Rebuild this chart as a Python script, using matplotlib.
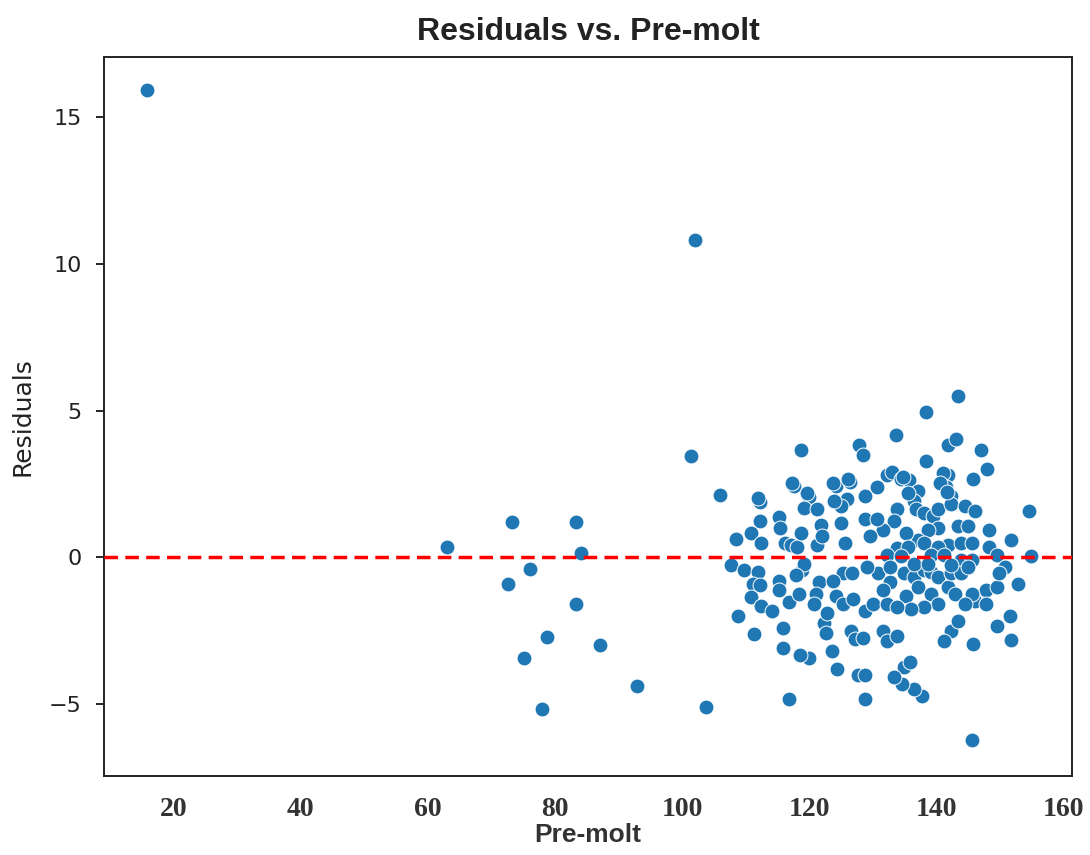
import matplotlib
matplotlib.use("Agg")
import matplotlib.pyplot as plt
from matplotlib import font_manager

# Pre-molt values and residuals
pre_molt = [
    15.7, 102.0, 101.4, 63.0, 73.2, 72.6, 76.1, 83.3, 84.1, 83.3, 78.7, 87.1,
    75.1, 92.9, 77.9, 103.8, 145.7, 106.0,
    118.7, 127.9, 128.5, 133.7, 138.4, 143.5, 141.9, 143.1, 147.1, 148.0,
    145.8, 138.4, 154.6, 155.0, 151.8, 152.9, 151.7, 151.8, 149.6, 145.8,
    142.4, 143.5, 141.3, 137.8, 136.5, 134.6, 135.0, 135.9, 133.4, 128.8,
    127.7, 128.8, 116.9, 124.4, 123.6, 120.0, 118.6, 115.9, 115.9, 111.3,
    108.8, 122.4, 122.7, 126.6, 127.2, 128.5, 131.7, 132.3, 133.9,
    # upper band
    112.2, 112.2, 110.9, 112.5, 108.5, 115.2, 115.4, 116.2, 117.1, 118.1,
    117.6, 120.0, 119.2, 121.3, 118.7, 121.9, 121.3, 124.3, 126.4, 125.9,
    125.1, 124.0, 128.8, 130.7, 132.3, 133.1, 134.4, 135.7, 137.1, 136.5,
    133.9, 136.8, 138.1, 139.5, 140.3, 141.9, 141.6, 142.4, 142.4, 144.5,
    146.1, 148.3, 148.3, 141.9, 143.5, 140.3, 138.7, 137.1, 135.2, 133.3,
    131.7, 129.6, 128.8, 125.6, 125.1, 122.1, 130.7, 133.9, 135.5, 138.1,
    140.3, 144.0, 145.6, 145.1, 132.3, 134.4, 139.2, 141.3, 144.0, 145.6,
    149.6, 150.9,
    117.3, 123.8, 126.1, 112.0, 119.7, 141.1, 140.6, 134.8, 135.6, 141.7,
    # lower band
    107.7, 109.8, 112.0, 111.2, 112.2, 110.9, 112.5, 114.1, 115.2, 115.2,
    116.8, 118.4, 118.9, 119.2, 118.0, 121.6, 121.1, 120.8, 122.9, 124.3,
    125.3, 126.9, 125.3, 126.7, 123.7, 128.8, 130.1, 132.3, 130.9, 132.8,
    131.7, 134.9, 135.2, 136.5, 138.1, 139.2, 137.1, 139.2, 140.3, 141.9,
    142.9, 142.4, 144.0, 145.1, 146.1, 147.8, 147.8, 149.6, 149.9, 145.6,
    140.3, 138.1, 136.0, 133.9, 144.5, 129.1, 132.8, 136.5, 138.7, 142.4,
]
residuals = [
    15.95, 10.82, 3.45, 0.34, 1.19, -0.92, -0.41, 1.19, 0.14, -1.60, -2.73, -3.00,
    -3.45, -4.40, -5.19, -5.12, -6.25, 2.12,
    3.65, 3.82, 3.48, 4.16, 4.95, 5.50, 3.82, 4.03, 3.65, 3.00,
    2.66, 3.28, 1.57, 0.03, 0.58, -0.92, -2.00, -2.83, -2.35, -2.97,
    -2.53, -2.18, -2.87, -4.74, -4.50, -4.33, -3.75, -3.58, -4.10, -4.85,
    -4.03, -4.03, -4.85, -3.82, -3.20, -3.45, -3.34, -3.10, -2.42, -2.63,
    -2.00, -2.25, -2.59, -2.53, -2.80, -2.76, -2.53, -2.87, -2.70,
    # upper band
    1.87, 1.23, 0.82, 0.48, 0.63, 1.35, 1.00, 0.48, 0.42, 0.36,
    2.44, 2.04, 1.69, 1.63, 0.82, 1.11, 0.42, 2.44, 2.56, 1.98,
    1.75, 1.92, 2.10, 2.39, 2.79, 2.91, 2.68, 2.62, 2.27, 1.92,
    1.63, 1.63, 1.52, 1.40, 1.63, 2.79, 2.39, 2.10, 1.81, 1.75,
    1.58, 0.94, 0.36, 0.42, 1.06, 1.00, 0.94, 0.59, 0.82, 1.23,
    0.94, 0.71, 1.29, 0.48, 1.17, 0.71, 1.29, 0.30, 0.36, 0.48,
    0.36, 0.48, 0.48, 1.06, 0.07, 0.02, 0.07, 0.07, -0.10, -0.10,
    0.07, -0.33,
    2.53, 2.53, 2.66, 2.01, 2.18, 2.87, 2.53, 2.73, 2.18, 2.22,
    # lower band
    -0.27, -0.45, -0.51, -0.91, -0.97, -1.37, -1.66, -1.84, -0.80, -1.14,
    -1.55, -1.26, -0.45, -0.22, -0.60, -0.85, -1.26, -1.61, -1.90, -1.32,
    -1.61, -1.43, -0.56, -0.56, -0.80, -1.84, -1.61, -1.61, -0.56, -0.85,
    -1.14, -0.56, -1.32, -0.68, -0.45, -0.51, -1.03, -1.26, -0.68, -1.03,
    -1.26, -0.56, -0.56, -0.33, -1.49, -1.14, -1.61, -1.03, -0.56, -1.26,
    -1.61, -1.72, -1.78, -1.72, -1.61, -0.33, -0.33, -0.22, -0.22, -0.27,
]

x_ticks = [20, 40, 60, 80, 100, 120, 140, 160]
y_ticks = [-5, 0, 5, 10, 15]

names = {f.name for f in font_manager.fontManager.ttflist}
narrow = "Liberation Sans Narrow" if "Liberation Sans Narrow" in names else "Liberation Sans"
title_size = 28 if narrow == "Liberation Sans Narrow" else 23
label_size = 24 if narrow == "Liberation Sans Narrow" else 19

fig = plt.figure(figsize=(10.9, 8.55), dpi=100)
ax = fig.add_axes([0.0954, 0.0924, 0.8881, 0.8409])

ax.scatter(pre_molt, residuals, s=115, color="#1f77b4",
           edgecolors="white", linewidths=0.7, zorder=3)
ax.axhline(0, color="red", linewidth=2.5, dashes=(3.9, 2.1), zorder=4)

ax.set_xlim(9.0, 161.4)
ax.set_ylim(-7.47, 17.06)

ax.set_xticks(x_ticks)
ax.set_xticklabels([str(t) for t in x_ticks], family="Liberation Serif",
                   fontweight="bold", fontsize=20, color="#333333")
ax.tick_params(axis="x", which="major", length=0, pad=15)
ax.set_xticks([20, 80, 140], minor=True)
ax.tick_params(axis="x", which="minor", length=7, width=1.2, direction="out")

ax.set_yticks(y_ticks)
ax.set_yticklabels(["\u22125", "0", "5", "10", "15"])
ax.tick_params(axis="y", labelsize=16, length=6, width=1.2, pad=10,
               labelcolor="#222222")

for sp in ax.spines.values():
    sp.set_linewidth(1.4)
    sp.set_color("#222222")

ax.set_title("Residuals vs. Pre-molt", family=narrow, fontweight="bold",
             fontsize=title_size, color="#222222", pad=12)
ax.set_xlabel("Pre-molt", family=narrow, fontweight="bold",
              fontsize=label_size, color="#333333", labelpad=1)
ax.set_ylabel("Residuals", fontsize=18, color="#222222", labelpad=10)

fig.savefig("out.png", dpi=100)
